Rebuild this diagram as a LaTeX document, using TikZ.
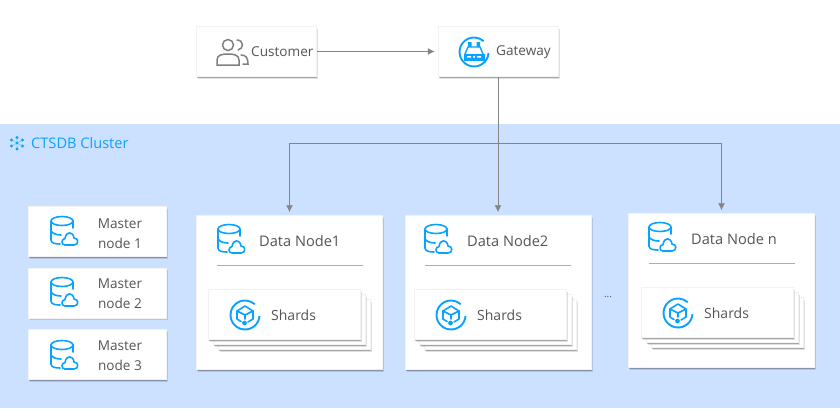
\documentclass[tikz,border=0pt]{standalone}
\usepackage{fontspec}
\setmainfont{Open Sans}
\usetikzlibrary{arrows.meta, positioning, shadows}

\definecolor{bandblue}{HTML}{CCE0FF}
\definecolor{iconblue}{HTML}{0AA2FF}
\definecolor{labelgray}{HTML}{555555}
\definecolor{linegray}{HTML}{858585}

\tikzset{
  card/.style={fill=white,draw=black!5,line width=.5pt,inner sep=0pt,
               drop shadow={shadow xshift=1.6pt,shadow yshift=-2.2pt,opacity=.12,fill=black},
               drop shadow={shadow xshift=.8pt,shadow yshift=-1.2pt,opacity=.25,fill=black}},
  tcard/.style={card,minimum width=120pt,minimum height=50pt},
  mcard/.style={card,minimum width=138pt,minimum height=50pt},
  dcard/.style={card,minimum width=186pt,minimum height=154pt},
  scard/.style={card,minimum width=152pt,minimum height=50pt},
  txt/.style={text=labelgray,font=\fontsize{13.6}{20}\selectfont,align=center,inner sep=0pt},
  bigtxt/.style={txt,font=\fontsize{14.6}{20}\selectfont},
  arrow/.style={-{Latex[length=7pt,width=7pt]},linegray,line width=.9pt,shorten >=3pt},
  wire/.style={linegray,line width=.9pt},
  rule/.style={draw=black!32,line width=.8pt},
  icon/.style={iconblue,line width=1.6pt,line cap=round,line join=round},
  pics/db/.style={code={
    \draw[icon] (-2,-10) ellipse (11 and 4.5);
    \draw[icon] (-13,-10) -- (-13,9) .. controls (-13,12) and (-9,13) .. (-4,13);
    \draw[icon] (9,-10) -- (9,-3);
    \draw[icon] (-13,0) .. controls (-11,3) and (-7,4) .. (-3,4);
    \draw[icon,fill=white] (1,14) .. controls (-3,14) and (-3,8) .. (1,7.5)
       .. controls (2,0) and (9,0) .. (10,7)
       .. controls (15,7) and (15,14) .. (10,14) -- cycle;
  }},
  pics/ringed/.style={code={
    \draw[icon,line width=1.9pt,line cap=butt] (14.5,1) arc (4:312:14.5);
  }},
  pics/shardicon/.style={code={
    \pic {ringed};
    \draw[icon] (3,7) -- (8,4) -- (8,-4) -- (0,-9) -- (-8,-4) -- (-8,4) -- (-4,6.5);
    \draw[icon] (-8,-4) -- (0,0) -- (8,-4);
    \draw[icon] (0,0) -- (0,4);
    \fill[iconblue] (-.5,8) circle (2.4);
  }},
  pics/gatewayicon/.style={code={
    \pic {ringed};
    \fill[iconblue] (-6,-10) rectangle (-2.5,-5) (2.5,-10) rectangle (6,-5);
    \draw[icon,line width=1.4pt] (-9,2) -- (-6,-5) -- (6,-5) -- (9,2);
    \fill[iconblue] (-10.5,2) rectangle (10.5,9);
    \fill[white] (-7,4) rectangle (-3,5.5) (-1,4) rectangle (1,5.5) (3,4) rectangle (7,5.5);
  }},
  pics/users/.style={code={
    \draw[black!50,line width=1.5pt] (-4,-7) circle (5.5);
    \draw[black!50,line width=1.5pt,line cap=round] (-15,13) -- (-15,8) .. controls (-15,3) and (-10,2) .. (-4,2)
       .. controls (2,2) and (7,3) .. (7,8) -- (7,13) -- cycle;
    \draw[black!50,line width=1.5pt,line cap=round] (5,-12) .. controls (12,-12) and (12,-3) .. (6,-2);
    \draw[black!50,line width=1.5pt,line cap=round] (9,3) .. controls (14,3) and (16,6) .. (16,12) -- (11,12);
  }},
  pics/flake/.style={code={
    \draw[iconblue!60,line width=.6pt] (0,-6) -- (0,6) (-5.5,-3) -- (5.5,3) (-5.5,3) -- (5.5,-3);
    \fill[iconblue] (0,-5.5) circle (1.7) (0,6) circle (1.7) (0,0) circle (1.3)
      (-5.5,-3) circle (1.7) (5.5,-3) circle (1.7) (-5.5,3) circle (1.7) (5.5,3) circle (1.7);
  }}
}

\begin{document}
\begin{tikzpicture}[x=1pt,y=-1pt,node distance=11pt and 22pt]
  \useasboundingbox (0,0) rectangle (840,408);
  \fill[bandblue] (0,124) rectangle (840,408);

  % top row
  \node[tcard]                     (customer) at (256.5,51.5) {};
  \node[tcard, right=121pt of customer] (gateway) {};
  \pic at (232,52) {users};
  \node[txt, anchor=west] (customertxt) at (251,52) {Customer};
  \pic at (474,52) {gatewayicon};
  \node[txt, anchor=west] (gatewaytxt) at (496,52.5) {Gateway};

  \pic at (17,143) {flake};
  \node[bigtxt, anchor=west, text=iconblue] (clustertxt) at (31,143) {CTSDB Cluster};

  % masters
  \node[mcard]             (master1) at (97.5,231.5) {};
  \node[mcard, below=of master1] (master2) {};
  \node[mcard, below=of master2] (master3) {};
  \pic at (64,231) {db};
  \pic at (64,292) {db};
  \pic at (64,355) {db};
  \node[txt] (master1txt) at (120,233.5) {Master\\node 1};
  \node[txt] (master2txt) at (120,293.5) {Master\\node 2};
  \node[txt] (master3txt) at (120,355.5) {Master\\node 3};

  % data nodes
  \node[dcard]            (data1) at (289.5,292.5) {};
  \node[dcard, right=of data1] (data2) {};
  \node[dcard]            (datan) at (721.5,290.5) {};

  \pic at (231,239) {db};
  \pic at (438,239) {db};
  \pic at (662,237) {db};
  \node[bigtxt, anchor=west] (data1txt) at (259,241) {Data Node1};
  \node[bigtxt, anchor=west] (data2txt) at (467,241) {Data Node2};
  \node[bigtxt, anchor=west] (datantxt) at (691,239) {Data Node n};

  \draw[rule] (217,265) -- (363,265);
  \draw[rule] (425,265) -- (571,265);
  \draw[rule] (649,263) -- (795,263);

  % shards, back to front
  \node[scard] (shard1c) at (294.5,324.5) {};
  \node[scard] (shard1b) at (289.5,319.5) {};
  \node[scard] (shard1a) at (284.5,314.5) {};
  \node[scard] (shard2c) at (500.5,324.5) {};
  \node[scard] (shard2b) at (495.5,319.5) {};
  \node[scard] (shard2a) at (490.5,314.5) {};
  \node[scard] (shardnc) at (727.5,322.5) {};
  \node[scard] (shardnb) at (722.5,317.5) {};
  \node[scard] (shardna) at (717.5,312.5) {};

  \pic at (245,315) {shardicon};
  \pic at (451,315) {shardicon};
  \pic at (678,313) {shardicon};
  \node[txt, anchor=west, font=\fontsize{14}{20}\selectfont] (shard1txt) at (271,315) {Shards};
  \node[txt, anchor=west, font=\fontsize{14}{20}\selectfont] (shard2txt) at (477,315) {Shards};
  \node[txt, anchor=west, font=\fontsize{14}{20}\selectfont] (shardntxt) at (704,313) {Shards};

  \node[txt, font=\fontsize{10}{12}\selectfont] (dots) at (608,297) {...};

  % connectors
  \coordinate (bus) at (gateway.south |- 0,143);
  \draw[arrow] (customer) -- (gateway);
  \draw[wire] (gateway.south) -- (bus);
  \draw[arrow] (bus) -| (data1.north);
  \draw[arrow] (bus) -- (bus |- data2.north);
  \draw[arrow] (bus) -| (datan.north);
\end{tikzpicture}
\end{document}
